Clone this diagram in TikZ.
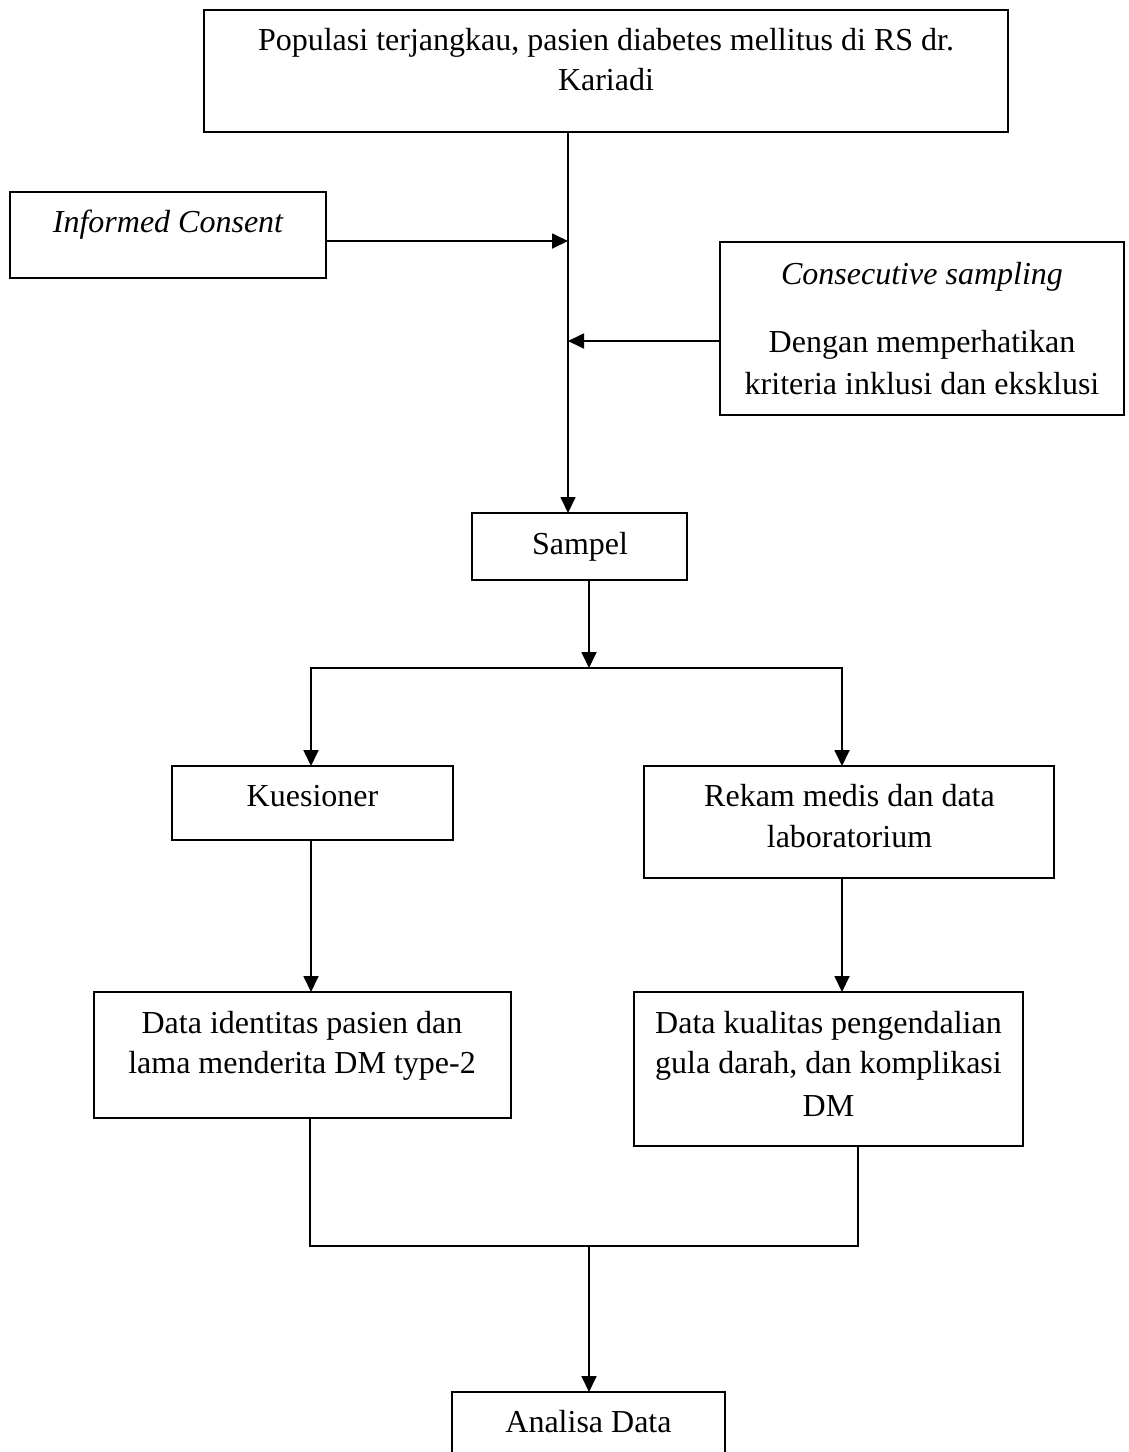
\documentclass[tikz,border=0pt]{standalone}
\usepackage{fontspec}
\setmainfont{Liberation Serif}
\usetikzlibrary{arrows.meta,calc}
\begin{document}
\begin{tikzpicture}[x=1pt,y=-1pt,
  box/.style={draw, line width=1.6pt, inner sep=0pt, outer sep=0pt, anchor=north west},
  txt/.style={inner sep=0pt, anchor=base, font=\fontsize{32}{40}\selectfont},
  arr/.style={line width=1.8pt, -{Triangle[length=16pt,width=15pt]}},
  plain/.style={line width=1.2pt}]
\useasboundingbox (0,0) rectangle (1128,1452);
\clip (0,0) rectangle (1128,1452);
% boxes
\node[box, minimum width=804pt, minimum height=121.7pt] (top) at (204,10) {};
\node[box, minimum width=316pt, minimum height=86pt] (ic) at (10,192) {};
\node[box, minimum width=404pt, minimum height=173pt] (cs) at (720,242) {};
\node[box, minimum width=215pt, minimum height=67pt] (sampel) at (472,513) {};
\node[box, minimum width=281pt, minimum height=74pt] (kues) at (172,766) {};
\node[box, minimum width=410pt, minimum height=112pt] (rekam) at (644,766) {};
\node[box, minimum width=417pt, minimum height=126pt] (ident) at (94,992) {};
\node[box, minimum width=389pt, minimum height=154pt] (kual) at (634,992) {};
\node[box, minimum width=273pt, minimum height=90pt] (analisa) at (452,1392) {};
% texts
\node[txt] (t1a) at (606,50.7) {Populasi terjangkau, pasien diabetes mellitus di RS dr.};
\node[txt] (t1b) at (606,90.7) {Kariadi};
\node[txt] (t2) at (168,232) {\itshape Informed Consent};
\node[txt] (t3a) at (922,284) {\itshape Consecutive sampling};
\node[txt] (t3b) at (922,352) {Dengan memperhatikan};
\node[txt] (t3c) at (922,394) {kriteria inklusi dan eksklusi};
\node[txt] (t4) at (580,554) {Sampel};
\node[txt] (t5) at (312.5,806) {Kuesioner};
\node[txt] (t6a) at (849.5,806) {Rekam medis dan data};
\node[txt] (t6b) at (849.5,847) {laboratorium};
\node[txt] (t7a) at (302,1033) {Data identitas pasien dan};
\node[txt] (t7b) at (302,1073) {lama menderita DM type-2};
\node[txt] (t8a) at (828.5,1033) {Data kualitas pengendalian};
\node[txt] (t8b) at (828.5,1073) {gula darah, dan komplikasi};
\node[txt] (t8c) at (828.5,1116) {DM};
\node[txt] (t9) at (588.5,1432) {Analisa Data};
% connectors
\coordinate (spine) at (568,0);
\draw[arr] (top.south -| spine) -- (sampel.north -| spine);
\coordinate (icj) at (568,241);
\draw[arr] (ic.east |- icj) -- (icj);
\coordinate (csj) at (568,341);
\draw[arr] (cs.west |- csj) -- (csj);
\coordinate (split) at (589,668);
\draw[arr] (sampel.south -| split) -- (split);
\coordinate (kx) at (311,0);
\coordinate (rkx) at (842,0);
\draw[arr] (split) -| (kues.north -| kx);
\draw[arr] (split) -| (rekam.north -| rkx);
\draw[arr] (kues.south -| kx) -- (ident.north -| kx);
\draw[arr] (rekam.south -| rkx) -- (kual.north -| rkx);
\coordinate (joinL) at (310,1246);
\coordinate (joinR) at (858,1246);
\coordinate (merge) at (589,1246);
\draw[plain] (ident.south -| joinL) -- (joinL) -- (joinR) -- (kual.south -| joinR);
\draw[arr] (merge) -- (analisa.north -| merge);
\end{tikzpicture}
\end{document}
